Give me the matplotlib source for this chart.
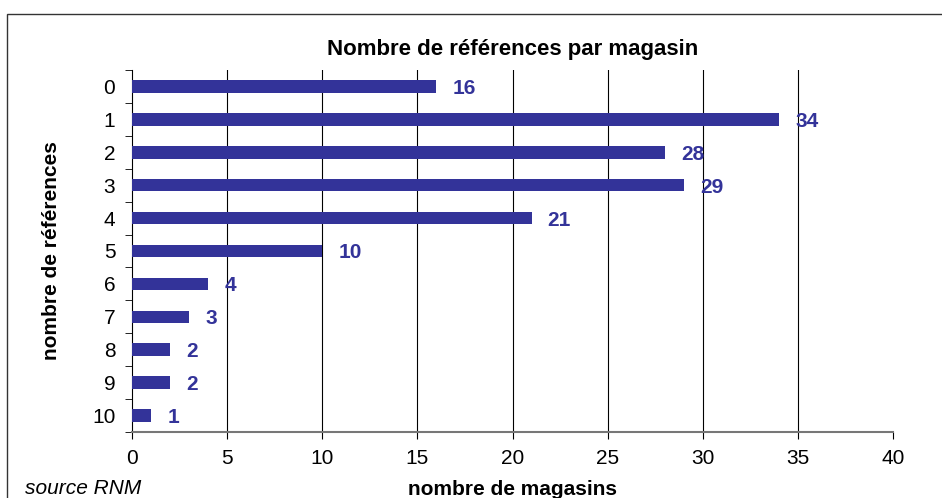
import matplotlib
matplotlib.use("Agg")
import matplotlib.pyplot as plt
from matplotlib.patches import Rectangle

plt.rcParams['font.family'] = ['Liberation Sans', 'DejaVu Sans']

# data
categories = ['0', '1', '2', '3', '4', '5', '6', '7', '8', '9', '10']
magasins = [16, 34, 28, 29, 21, 10, 4, 3, 2, 2, 1]
x_ticks = [0, 5, 10, 15, 20, 25, 30, 35, 40]

bar_color = '#333399'

fig = plt.figure(figsize=(9.42, 4.98), dpi=100)
ax = fig.add_axes([132 / 942, 1 - 432 / 498, (893 - 132) / 942, (432 - 70) / 498])

# frame around the chart (cut on the right and bottom)
fig.patches.append(Rectangle((7 / 942, -0.1), 1.2, 1 - 14 / 498 + 0.1,
                             transform=fig.transFigure, fill=False,
                             edgecolor='#333333', linewidth=1))

pos = list(range(len(categories)))
ax.barh(pos, magasins, height=0.38, color=bar_color, zorder=3)
for p, v in zip(pos, magasins):
    ax.text(v + 0.85, p, str(v), va='center_baseline', ha='left', color=bar_color,
            fontsize=15, fontweight='bold')

# vertical grid lines, none at the right end
for t in x_ticks[1:-1]:
    ax.axvline(t, color='black', linewidth=0.8, zorder=1)

ax.set_xlim(0, 40)
ax.set_ylim(10.5, -0.5)
ax.set_xticks(x_ticks)
ax.set_xticklabels([str(t) for t in x_ticks], fontsize=15)
ax.set_yticks(pos)
ax.set_yticklabels(categories, fontsize=15)
ax.tick_params(axis='y', length=0, pad=12)
ax.set_yticks([p - 0.5 for p in pos] + [10.5], minor=True)
ax.tick_params(axis='y', which='minor', length=5, direction='out', color='black')
ax.tick_params(axis='x', length=5, direction='out', color='black', pad=7)

ax.spines['top'].set_visible(False)
ax.spines['right'].set_visible(False)
ax.spines['left'].set_color('black')
ax.spines['left'].set_linewidth(0.8)
ax.spines['bottom'].set_color('#777777')
ax.spines['bottom'].set_linewidth(1.5)

ax.set_title('Nombre de références par magasin', fontsize=16, fontweight='bold', pad=11)
ax.set_xlabel('nombre de magasins', fontsize=15, fontweight='bold', labelpad=9)
ax.set_ylabel('nombre de références', fontsize=15, fontweight='bold', labelpad=22)
fig.text(25 / 942, 1 - 488 / 498, 'source RNM', fontsize=15, style='italic',
         va='center', ha='left')

fig.savefig('out.png', dpi=100)
